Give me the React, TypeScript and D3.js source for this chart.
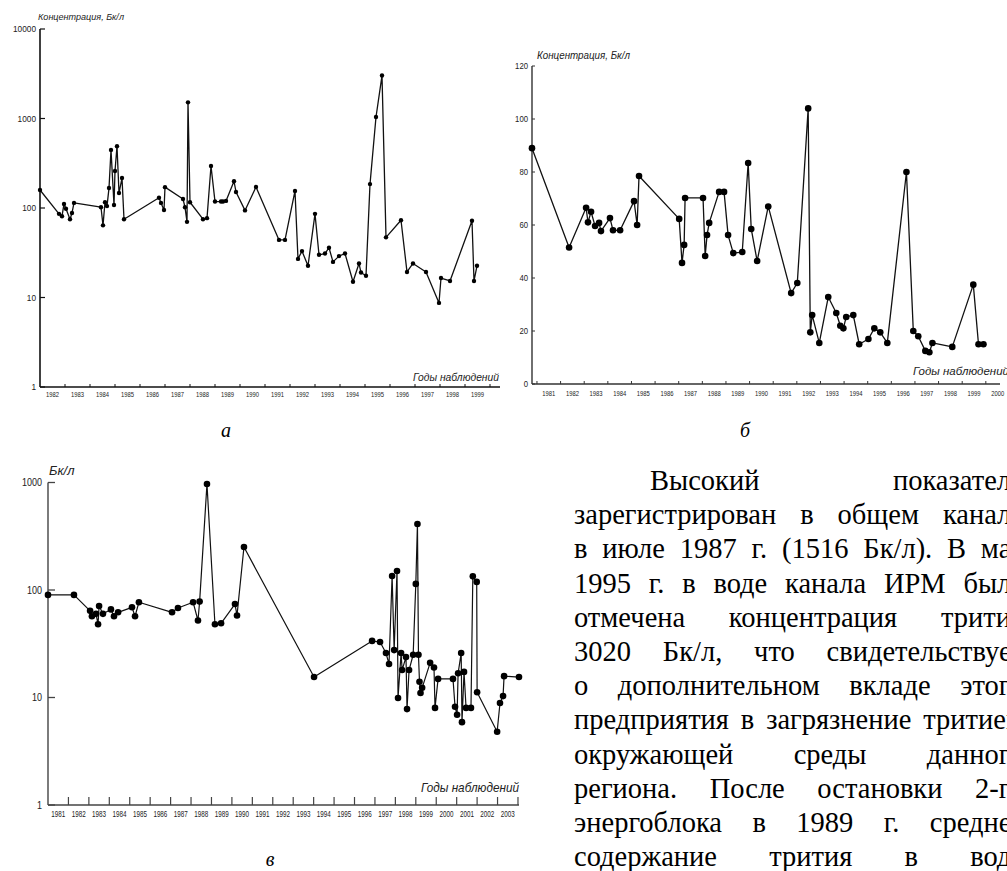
import React, { useEffect, useRef } from "react";
import * as d3 from "d3";

// ---------- Panel a (log scale) ----------
const aYears = [1982.00,1982.76,1982.88,1982.96,1983.04,1983.20,1983.28,1983.36,1984.44,1984.52,1984.60,1984.68,1984.76,1984.84,1984.96,1985.00,1985.08,1985.16,1985.28,1985.36,1986.76,1986.84,1986.96,1987.00,1987.72,1987.80,1987.88,1987.92,1988.00,1988.52,1988.68,1988.84,1989.00,1989.24,1989.32,1989.44,1989.76,1989.84,1990.20,1990.64,1991.56,1991.80,1992.20,1992.32,1992.48,1992.72,1993.00,1993.16,1993.40,1993.56,1993.72,1993.96,1994.20,1994.52,1994.76,1994.84,1995.04,1995.20,1995.44,1995.68,1995.84,1996.44,1996.68,1996.92,1997.44,1997.96,1998.04,1998.40,1999.28,1999.36,1999.48];
const aValues = [159,86,81,111,98,75,88,114,102,64,116,105,167,446,108,259,490,147,216,75,130,114,95,171,126,102,70,1516,116,75,77,295,118,118,118,120,199,151,94,172,44,44,155,27,33,22.6,86,30,31,36,25,29,31,15,24,19,17.5,185,1040,3020,47,73,19.3,24,19.3,8.7,16.5,15.3,72,15.3,22.6];
const aYTicks = [1, 10, 100, 1000, 10000];
const aXLabels = [1982,1983,1984,1985,1986,1987,1988,1989,1990,1991,1992,1993,1994,1995,1996,1997,1998,1999];

// ---------- Panel б (linear) ----------
const bYears = [1980.79,1982.36,1983.08,1983.16,1983.29,1983.46,1983.63,1983.71,1984.09,1984.22,1984.52,1985.11,1985.24,1985.32,1987.02,1987.14,1987.23,1987.27,1988.03,1988.12,1988.20,1988.29,1988.71,1988.92,1989.09,1989.31,1989.69,1989.94,1990.07,1990.32,1990.79,1991.76,1992.02,1992.48,1992.57,1992.65,1992.95,1993.33,1993.67,1993.84,1993.97,1994.09,1994.39,1994.64,1995.03,1995.28,1995.53,1995.83,1996.64,1996.93,1997.14,1997.44,1997.61,1997.74,1998.58,1999.47,1999.69,1999.90];
const bValues = [89,51.5,66.5,61,65,59.6,60.8,57.7,62.6,58,58,69,60,78.5,62.3,45.7,52.5,70.2,70.2,48.3,56.2,60.8,72.5,72.5,56.2,49.4,49.8,83.4,58.5,46.4,67,34.3,38.1,104,19.5,26,15.5,32.8,26.8,22,21,25.3,26,15,17,21,19.5,15.5,80,20,18,12.5,12,15.5,14,37.5,15,15];
const bYTicks = [0, 20, 40, 60, 80, 100, 120];
const bXLabels = [1981,1982,1983,1984,1985,1986,1987,1988,1989,1990,1991,1992,1993,1994,1995,1996,1997,1998,1999,2000];

// ---------- Panel в (log scale) ----------
const cYears = [1981.00,1982.27,1983.06,1983.15,1983.35,1983.45,1983.50,1983.69,1984.08,1984.23,1984.43,1985.11,1985.26,1985.45,1987.07,1987.36,1988.10,1988.34,1988.42,1988.78,1989.17,1989.47,1990.15,1990.25,1990.59,1994.02,1996.86,1997.25,1997.54,1997.69,1997.84,1997.94,1998.08,1998.13,1998.28,1998.33,1998.52,1998.57,1998.67,1998.87,1999.00,1999.08,1999.13,1999.18,1999.23,1999.31,1999.70,1999.89,1999.94,2000.09,2000.82,2000.92,2001.02,2001.07,2001.22,2001.26,2001.36,2001.46,2001.70,2001.79,2001.98,2002.00,2002.98,2003.12,2003.27,2003.32,2004.05];
const cValues = [90,90,64,57,60,48,71,60,66,57,62,69,57,77,62,68,77,52,78,968,48,49,74,58,251,15.5,33.6,32.8,25.9,20.5,135,27.6,150,9.9,25.9,18,23.8,7.8,18,25,114,411,25,14,11,12.3,21,19,8,14.9,14.9,8.2,6.9,16.8,25.9,5.9,17.3,8,8,134,119,11.2,4.8,8.9,10.3,15.8,15.5];
const cYTicks = [1, 10, 100, 1000];
const cXLabels = [1981,1982,1983,1984,1985,1986,1987,1988,1989,1990,1991,1992,1993,1994,1995,1996,1997,1998,1999,2000,2001,2002,2003];

const paragraphLines = [
  "Высокий показатель",
  "зарегистрирован в общем канале",
  "в июле 1987 г. (1516 Бк/л). В мае",
  "1995 г. в воде канала ИРМ была",
  "отмечена концентрация трития",
  "3020 Бк/л, что свидетельствует",
  "о дополнительном вкладе этого",
  "предприятия в загрязнение тритием",
  "окружающей среды данного",
  "региона. После остановки 2-го",
  "энергоблока в 1989 г. среднее",
  "содержание трития в воде",
];

const AXIS_FONT = "'Liberation Sans', Arial, sans-serif";
const SERIF = "'Liberation Serif', 'Times New Roman', Tinos, 'DejaVu Serif', 'Noto Serif', 'Nimbus Roman', FreeSerif, Times, serif";

function Series({ xs, ys, x, y, r, sw }: any) {
  const pts = xs.map((t: number, i: number) => [x(t), y(ys[i])] as [number, number]);
  const line = d3.line();
  return (
    <g>
      <path d={line(pts) || ""} fill="none" stroke="#111" strokeWidth={sw} strokeLinejoin="round" />
      {pts.map((p: [number, number], i: number) => (
        <circle key={i} cx={p[0]} cy={p[1]} r={r} fill="#000" />
      ))}
    </g>
  );
}

export default function App() {
  const textRef = useRef<SVGGElement>(null);

  const ax = d3.scaleLinear().domain([1982, 2000.4]).range([40, 500]);
  const ay = d3.scaleLog().domain([1, 10000]).range([387, 29]);
  const bx = d3.scaleLinear().domain([1980.79, 2000.6]).range([532, 1000]);
  const by = d3.scaleLinear().domain([0, 120]).range([384, 66]);
  const cx = d3.scaleLinear().domain([1981, 2004.05]).range([48, 519]);
  const cy = d3.scaleLog().domain([1, 1000]).range([805, 482.5]);

  useEffect(() => {
    const g = d3.select(textRef.current);
    g.selectAll("*").remove();
    paragraphLines.forEach((line, i) => {
      const words = line.split(" ");
      const left = i === 0 ? 650 : 574;
      const right = 1024;
      const yy = 490 + i * 34.2;
      const nodes = words.map((w) =>
        g.append("text")
          .attr("y", yy)
          .attr("x", left)
          .attr("font-family", SERIF)
          .style("font-family", SERIF)
          .style("font-size", "28.5px")
          .style("fill", "#000")
          .text(w)
      );
      const widths = nodes.map((n) => (n.node() as SVGTextElement).getComputedTextLength());
      const total = d3.sum(widths);
      const gap = words.length > 1 ? (right - left - total) / (words.length - 1) : 0;
      let xx = left;
      nodes.forEach((n, k) => {
        n.attr("x", xx);
        xx += widths[k] + gap;
      });
    });
  }, []);

  return (
    <svg width={1007} height={871} style={{ position: "absolute", left: 0, top: 0, background: "#fff" }}>
      <rect x={0} y={0} width={1007} height={871} fill="#fff" />

      {/* ---------- Panel a ---------- */}
      <g fontFamily={AXIS_FONT} fill="#222">
        <line x1={ax.range()[0]} x2={ax.range()[0]} y1={ay(1)} y2={ay(10000)} stroke="#111" strokeWidth={1.6} />
        <line x1={ax.range()[0]} x2={ax.range()[1]} y1={ay(1)} y2={ay(1)} stroke="#111" strokeWidth={1.4} />
        {aYTicks.map((v) => (
          <g key={v}>
            <line x1={ax.range()[0]} x2={ax.range()[0] + 5} y1={ay(v)} y2={ay(v)} stroke="#111" strokeWidth={1.2} />
            <text x={ax.range()[0] - 4} y={ay(v)} dy="0.35em" textAnchor="end" fontSize={9.5}
              textLength={String(v).length * 4.6} lengthAdjust="spacingAndGlyphs">{v}</text>
          </g>
        ))}
        {d3.range(1983, 2001).map((t) => (
          <line key={t} x1={ax(t)} x2={ax(t)} y1={ay(1)} y2={ay(1) - 3} stroke="#111" strokeWidth={1} />
        ))}
        {aXLabels.map((t) => (
          <text key={t} x={ax(t + 0.5) - 6.5} y={ay(1) + 10} fontSize={8}
            textLength={13} lengthAdjust="spacingAndGlyphs">{t}</text>
        ))}
        <text x={38} y={20} fontSize={9.5} fontStyle="italic" textLength={86} lengthAdjust="spacingAndGlyphs">Концентрация, Бк/л</text>
        <text x={413} y={381} fontSize={10} fontStyle="italic" textLength={86} lengthAdjust="spacingAndGlyphs">Годы наблюдений</text>
        <Series xs={aYears} ys={aValues} x={ax} y={ay} r={2.2} sw={1.3} />
      </g>

      {/* ---------- Panel б ---------- */}
      <g fontFamily={AXIS_FONT} fill="#222">
        <line x1={bx.range()[0]} x2={bx.range()[0]} y1={by(0)} y2={by(120)} stroke="#333" strokeWidth={1.4} />
        <line x1={bx.range()[0]} x2={bx.range()[1]} y1={by(0)} y2={by(0)} stroke="#333" strokeWidth={1.3} />
        {bYTicks.map((v) => (
          <g key={v}>
            <line x1={bx.range()[0]} x2={bx.range()[0] + 3} y1={by(v)} y2={by(v)} stroke="#333" strokeWidth={1} />
            <text x={bx.range()[0] - 4} y={by(v)} dy="0.35em" textAnchor="end" fontSize={8.5}
              textLength={String(v).length * 4.3} lengthAdjust="spacingAndGlyphs">{v}</text>
          </g>
        ))}
        {d3.range(1981, 2001).map((t) => (
          <line key={t} x1={bx(t)} x2={bx(t)} y1={by(0)} y2={by(0) - 3} stroke="#333" strokeWidth={1} />
        ))}
        {bXLabels.map((t) => (
          <text key={t} x={bx(t + 0.5) - 6.5} y={by(0) + 12} fontSize={7.5}
            textLength={13} lengthAdjust="spacingAndGlyphs">{t}</text>
        ))}
        <text x={537} y={59} fontSize={10.5} fontStyle="italic" textLength={93} lengthAdjust="spacingAndGlyphs">Концентрация, Бк/л</text>
        <text x={913} y={375} fontSize={10.5} fontStyle="italic" textLength={96} lengthAdjust="spacingAndGlyphs">Годы наблюдений</text>
        <Series xs={bYears} ys={bValues} x={bx} y={by} r={3.3} sw={1.3} />
      </g>

      {/* ---------- Panel в ---------- */}
      <g fontFamily={AXIS_FONT} fill="#222">
        <line x1={cx.range()[0]} x2={cx.range()[0]} y1={cy(1)} y2={cy(1000)} stroke="#444" strokeWidth={1.4} />
        <line x1={cx.range()[0]} x2={cx.range()[1]} y1={cy(1)} y2={cy(1)} stroke="#444" strokeWidth={1.4} />
        {cYTicks.map((v) => (
          <g key={v}>
            <line x1={cx.range()[0]} x2={cx.range()[0] + 7} y1={cy(v)} y2={cy(v)} stroke="#444" strokeWidth={1.3} />
            <text x={cx.range()[0] - 6} y={cy(v)} dy="0.35em" textAnchor="end" fontSize={10}
              textLength={String(v).length * 5} lengthAdjust="spacingAndGlyphs">{v}</text>
          </g>
        ))}
        {d3.range(1982, 2005).map((t) => (
          <line key={t} x1={cx(t)} x2={cx(t)} y1={cy(1)} y2={cy(1) - 8} stroke="#444" strokeWidth={1.2} />
        ))}
        {cXLabels.map((t) => (
          <text key={t} x={cx(t + 0.5) - 7} y={cy(1) + 12} fontSize={9}
            textLength={14} lengthAdjust="spacingAndGlyphs">{t}</text>
        ))}
        <text x={49} y={475} fontSize={13} fontStyle="italic">Бк/л</text>
        <text x={421} y={792} fontSize={13} fontStyle="italic" textLength={98} lengthAdjust="spacingAndGlyphs">Годы наблюдений</text>
        <Series xs={cYears} ys={cValues} x={cx} y={cy} r={3.3} sw={1.2} />
      </g>

      {/* captions */}
      <g fontFamily={SERIF} fontStyle="italic" fontSize={20} fill="#000" textAnchor="middle">
        <text x={226} y={437}>а</text>
        <text x={745} y={437}>б</text>
        <text x={270} y={866}>в</text>
      </g>

      <g ref={textRef} />
    </svg>
  );
}
